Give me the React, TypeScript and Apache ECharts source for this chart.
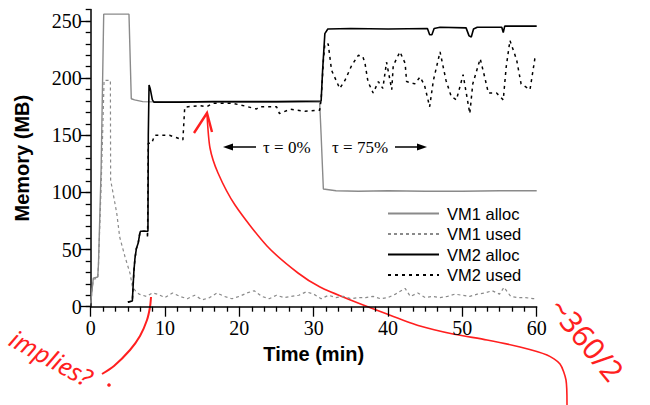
import React, { useEffect, useRef } from "react";
import * as echarts from "echarts";

// ---------- data (time in minutes, memory in MB) ----------
const vm1Alloc: [number, number][] = [
  [0, 3], [0.35, 25], [0.95, 26], [1.05, 38], [1.4, 120], [1.75, 256], [5.15, 256], [5.46, 182],
  [5.9, 181], [7.0, 179.5], [10, 179], [16, 179.5], [20, 179], [25, 179], [30.8, 179],
  [31.0, 150], [31.3, 103], [33, 101.5], [36, 101], [40, 101.5], [45, 101], [50, 101],
  [55, 101.5], [60, 101.5],
];

const vm1Used: [number, number][] = [
  [0, 3], [0.35, 24], [0.95, 25], [1.05, 38], [1.4, 105], [1.6, 150], [1.8, 198], [2.65, 198],
  [2.68, 111], [3.5, 82], [3.9, 61], [4.6, 44], [5.3, 29], [5.6, 18], [6.0, 14], [6.5, 11],
  [7.5, 9], [8.3, 12], [9, 11], [10, 8], [11, 12], [12, 9], [13, 7], [14, 10], [15, 6], [16, 8],
  [17, 12], [18, 9], [19, 7], [20, 9], [21, 12], [22, 14], [23, 9], [24, 7], [25, 10], [26, 8],
  [27, 9], [28, 10], [29, 13], [30, 11], [31, 7], [32, 10], [33, 8], [34, 9], [35, 7], [36, 8],
  [37, 8], [38, 9], [39, 7], [40, 8], [41, 11], [42.3, 16], [43, 9], [44, 12], [45, 8], [46, 9],
  [47, 8], [48, 9], [49, 11], [50, 10], [51, 9], [52, 11], [53, 12], [54, 14], [55, 11],
  [55.6, 17], [56.5, 9], [57.5, 8], [58.5, 8], [59.5, 7], [60, 7],
];

const vm2Alloc: [number, number][] = [
  [5.0, 4], [5.6, 5], [5.8, 30], [5.95, 42], [6.15, 51], [6.4, 56], [6.6, 64], [6.7, 66],
  [7.7, 66], [7.75, 150], [7.85, 194], [8.0, 191], [8.3, 181], [8.5, 179], [12, 179],
  [16.4, 179.5], [25, 179.5], [31.0, 180], [31.2, 207], [31.5, 239], [31.9, 243],
  [35, 243.5], [40, 243], [45.3, 243.5], [45.6, 238], [45.9, 238], [46.2, 243.5], [47, 244.5],
  [50.5, 244], [50.9, 237], [51.2, 236], [51.5, 243], [52, 244.5], [55.3, 244.5], [55.5, 240],
  [55.7, 245.5], [60, 245.5],
];

const vm2Used: [number, number][] = [
  [5.0, 4], [5.6, 5], [5.8, 30], [5.95, 42], [6.15, 51], [6.4, 56], [6.6, 64], [6.7, 66],
  [7.6, 66], [7.65, 60], [7.75, 143], [8.2, 143], [8.6, 150], [10.6, 150], [11.5, 148],
  [12.4, 146], [12.65, 174.6], [13.1, 175], [14.7, 176], [15.6, 175], [16.45, 178], [19.1, 178],
  [20.7, 175.7], [22.3, 173], [22.7, 175], [25, 175], [25.4, 169], [26.8, 172.8], [28.8, 171],
  [30.8, 172], [31.0, 181], [31.3, 215], [31.5, 230], [31.95, 230], [32.4, 207], [33.5, 191],
  [34.2, 198], [35.1, 211], [36.0, 220], [36.6, 219], [36.9, 213], [37.3, 197], [38.0, 187],
  [38.7, 197], [39.3, 191], [39.8, 214], [40.5, 190], [40.7, 211], [41.6, 223], [42.3, 213],
  [42.5, 197], [43.6, 195], [44.3, 201], [44.9, 194], [45.6, 175], [46.1, 198], [47.0, 223],
  [47.8, 198], [48.5, 184], [49.2, 181], [50.1, 203], [51.0, 169], [51.4, 195], [52.4, 217],
  [53.0, 201], [53.5, 187], [54.6, 187], [55.5, 181], [55.9, 210], [56.4, 233], [57.3, 216],
  [57.9, 195], [59.1, 190], [59.75, 217], [60, 220],
];

const seriesNames = ["VM1 alloc", "VM1 used", "VM2 alloc", "VM2 used"];
const yLabelValues = [0, 50, 100, 150, 200, 250];
const yMinorTickValues = [0, 10, 20, 30, 40, 50, 60, 70, 80, 90, 100, 110, 120, 130, 140, 150, 160, 170, 180, 190, 200, 210, 220, 230, 240, 250, 260];
const annotationLeft = "τ = 0%";
const annotationRight = "τ = 75%";
const noteImplies = "implies?";
const noteRatio = "~360/2";

const GRAY = "#8a8a8a";
const RED = "#ff1f1f";
const SERIF = "'Liberation Serif', 'Times New Roman', serif";
const SANS = "'Liberation Sans', Arial, sans-serif";

export default function App() {
  const ref = useRef<HTMLDivElement>(null);

  useEffect(() => {
    if (!ref.current) return;
    const chart = echarts.init(ref.current, undefined, { renderer: "svg" });

    const axisLine = { show: true, lineStyle: { color: "#000", width: 1.5 } };

    const option: any = {
      animation: false,
      backgroundColor: "#fff",
      grid: { left: 90.7, top: 9.6, width: 446, height: 297.1, containLabel: false },
      legend: {
        orient: "vertical",
        left: 387,
        top: 205,
        padding: 0,
        itemWidth: 51,
        itemHeight: 14,
        itemGap: 3.5,
        data: seriesNames,
        itemStyle: { opacity: 0 },
        textStyle: { fontFamily: SANS, fontSize: 16.5, color: "#000", padding: [0, 0, 0, 3] },
      },
      xAxis: {
        type: "value",
        min: 0,
        max: 60,
        interval: 10,
        name: "Time (min)",
        nameLocation: "middle",
        nameGap: 37,
        nameTextStyle: { fontFamily: SANS, fontWeight: "bold", fontSize: 20, color: "#000" },
        axisLine,
        axisTick: { show: true, length: 10, lineStyle: { color: "#000", width: 1.3 } },
        minorTick: { show: true, splitNumber: 6, length: 5, lineStyle: { color: "#000", width: 1.3 } },
        axisLabel: { fontFamily: SERIF, fontSize: 20, color: "#000", margin: 11 },
        splitLine: { show: false },
      },
      yAxis: [
        {
          type: "value",
          min: 0,
          max: 260,
          name: "Memory (MB)",
          nameLocation: "middle",
          nameGap: 59,
          nameTextStyle: { fontFamily: SANS, fontWeight: "bold", fontSize: 20, color: "#000" },
          axisLine,
          axisTick: { show: true, length: 5, customValues: yMinorTickValues, lineStyle: { color: "#000", width: 1.3 } },
          axisLabel: { fontFamily: SERIF, fontSize: 20, color: "#000", margin: 9, customValues: yLabelValues },
          splitLine: { show: false },
        },
        {
          type: "value",
          min: 0,
          max: 260,
          position: "left",
          axisLine: { show: false },
          axisTick: { show: true, length: 10, customValues: yLabelValues, lineStyle: { color: "#000", width: 1.3 } },
          axisLabel: { show: false },
          splitLine: { show: false },
        },
      ],
      series: [
        {
          name: seriesNames[0], type: "line", data: vm1Alloc, showSymbol: false, symbol: "none",
          lineStyle: { color: GRAY, width: 1.4 }, itemStyle: { color: GRAY },
        },
        {
          name: seriesNames[1], type: "line", data: vm1Used, showSymbol: false, symbol: "none",
          lineStyle: { color: GRAY, width: 1.2, type: [3, 3] }, itemStyle: { color: GRAY },
        },
        {
          name: seriesNames[2], type: "line", data: vm2Alloc, showSymbol: false, symbol: "none",
          lineStyle: { color: "#000", width: 1.6 }, itemStyle: { color: "#000" },
        },
        {
          name: seriesNames[3], type: "line", data: vm2Used, showSymbol: false, symbol: "none",
          lineStyle: { color: "#000", width: 1.5, type: [3, 4] }, itemStyle: { color: "#000" },
        },
      ],
      graphic: [
        // tau annotations
        { type: "text", x: 263, y: 147, style: { text: annotationLeft, font: `17px ${SERIF}`, fill: "#000", align: "left", verticalAlign: "middle" } },
        { type: "line", shape: { x1: 230, y1: 147, x2: 256, y2: 147 }, style: { stroke: "#000", lineWidth: 1.5 } },
        { type: "polygon", shape: { points: [[223, 147], [233, 143.5], [233, 150.5]] }, style: { fill: "#000" } },
        { type: "text", x: 332, y: 147, style: { text: annotationRight, font: `17px ${SERIF}`, fill: "#000", align: "left", verticalAlign: "middle" } },
        { type: "line", shape: { x1: 395, y1: 147, x2: 420, y2: 147 }, style: { stroke: "#000", lineWidth: 1.5 } },
        { type: "polygon", shape: { points: [[427, 147], [417, 143.5], [417, 150.5]] }, style: { fill: "#000" } },
        // red hand-drawn notes
        {
          type: "polyline",
          shape: {
            points: [[567, 405], [566, 380], [560, 364], [547, 355], [520, 347], [487, 340], [453, 334],
              [420, 326], [387, 314], [353, 301], [320, 287], [298, 273], [267, 246], [235, 205],
              [218, 173], [210, 148], [207, 114]],
            smooth: 0.25,
          },
          style: { stroke: RED, lineWidth: 1.6, fill: null },
        },
        { type: "polyline", shape: { points: [[194, 133], [207, 113], [212, 132]] }, style: { stroke: RED, lineWidth: 2.4, fill: null } },
        {
          type: "polyline",
          shape: { points: [[102, 374], [114, 366], [130, 350], [140, 336], [147, 320], [150, 307], [151, 297]], smooth: 0.3 },
          style: { stroke: RED, lineWidth: 2, fill: null },
        },
        { type: "circle", shape: { cx: 109, cy: 385, r: 1.8 }, style: { fill: RED } },
        {
          type: "text", x: 12, y: 336, rotation: -0.5,
          style: { text: noteImplies, font: `italic 25px 'Noto Sans', sans-serif`, fill: RED, align: "left", verticalAlign: "middle" },
        },
        {
          type: "text", x: 556, y: 302, rotation: -0.88,
          style: { text: noteRatio, font: `30px 'Noto Sans', sans-serif`, fill: RED, align: "left", verticalAlign: "middle" },
        },
      ],
    };

    chart.setOption(option);
    return () => chart.dispose();
  }, []);

  return (
    <div
      ref={ref}
      style={{ position: "fixed", left: 0, top: 0, width: 650, height: 405, background: "#fff" }}
    />
  );
}
